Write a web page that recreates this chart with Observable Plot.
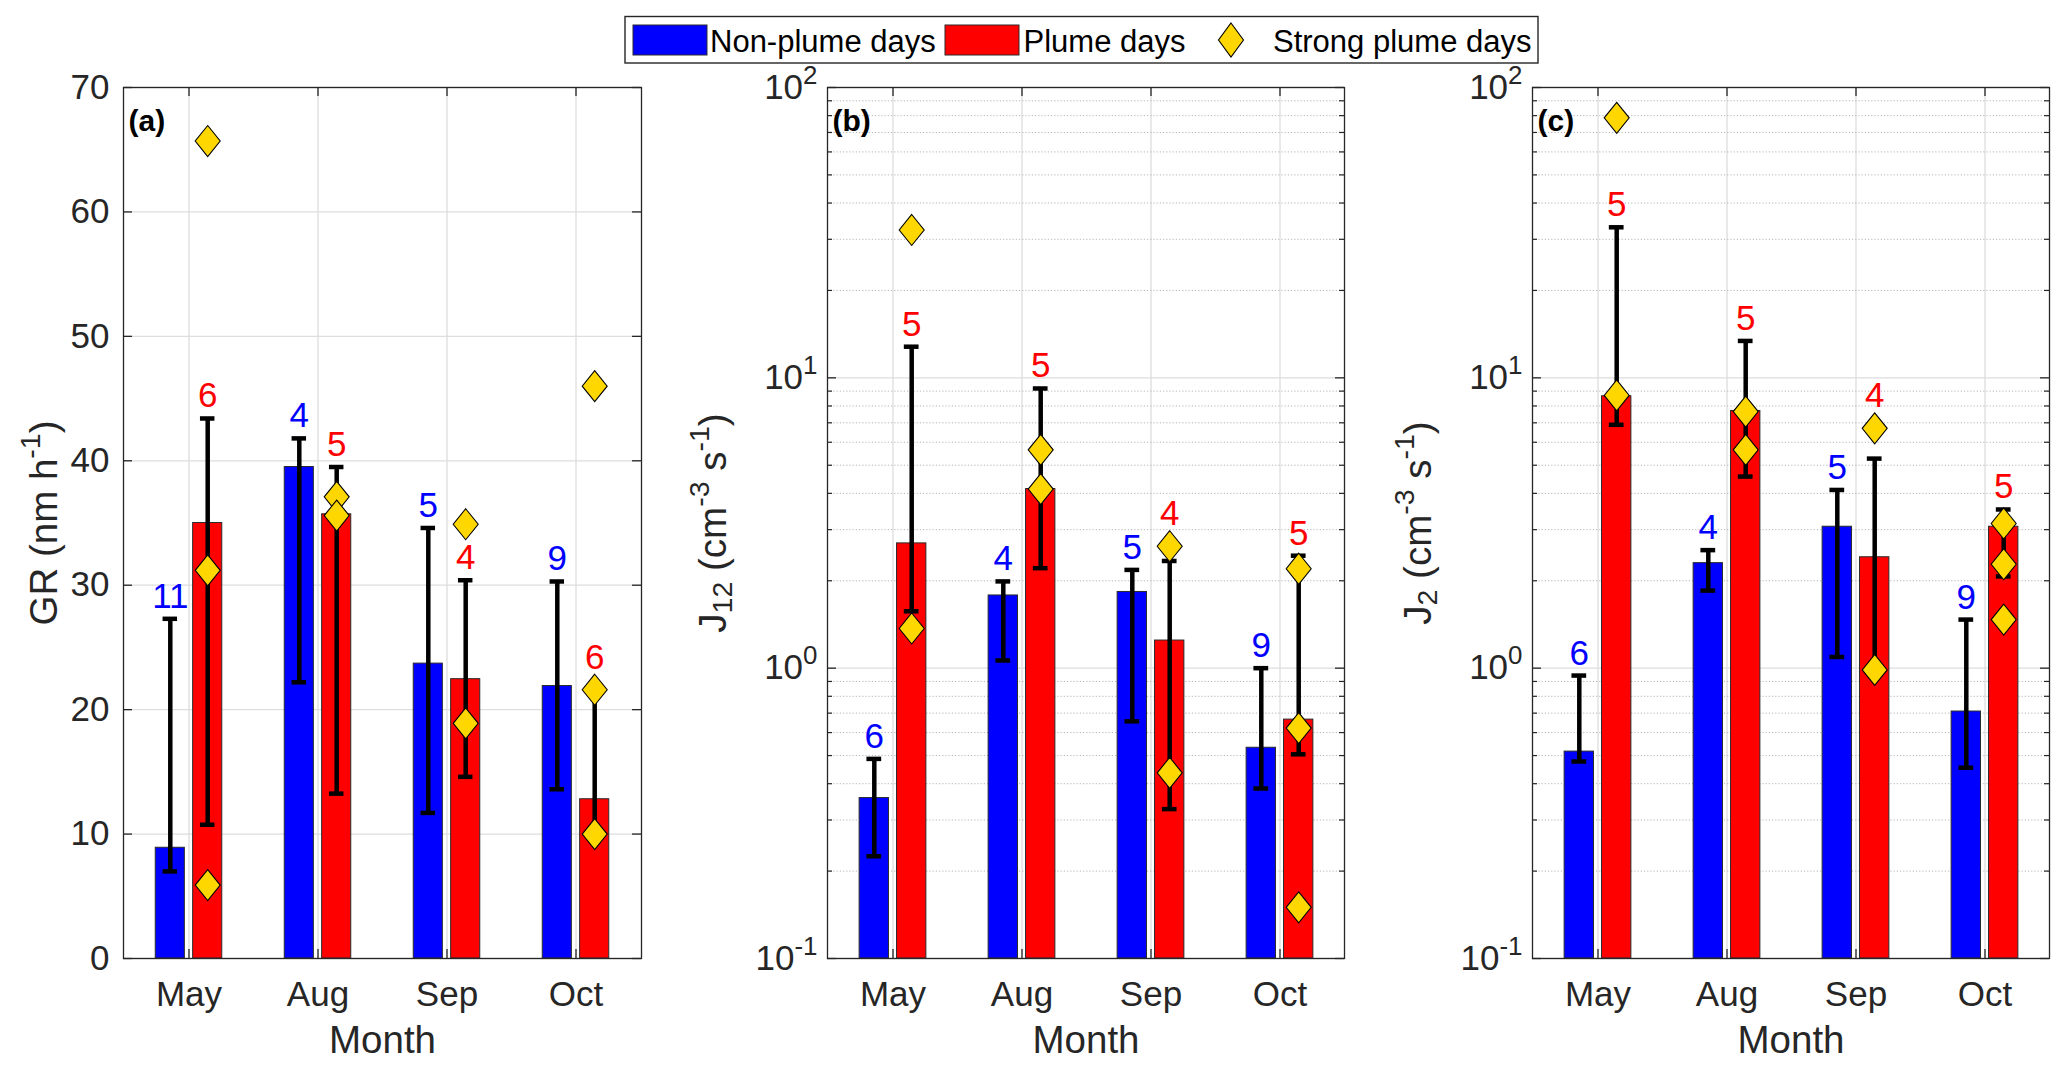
<!DOCTYPE html>
<html><head><meta charset="utf-8">
<script src="https://cdn.jsdelivr.net/npm/d3@7"></script>
<script src="https://cdn.jsdelivr.net/npm/@observablehq/plot@0.6"></script>
<style>
html,body{margin:0;padding:0;background:#fff;}
#wrap{position:relative;width:2067px;height:1072px;overflow:hidden;font-family:"Liberation Sans",Arial,sans-serif;}
#wrap svg{position:absolute;overflow:visible;}
</style></head><body><div id="wrap"></div>
<script>
// ---------- data ----------
const months = ["May", "Aug", "Sep", "Oct"];

// (a) GR (nm h-1)
const grNonMean = [8.9, 39.5, 23.7, 21.9];
const grNonLo   = [7.0, 22.2, 11.7, 13.6];
const grNonHi   = [27.3, 41.8, 34.6, 30.3];
const grNonN    = [11, 4, 5, 9];
const grPlMean  = [35.0, 35.7, 22.45, 12.8];
const grPlLo    = [10.75, 13.25, 14.6, 10.3];
const grPlHi    = [43.4, 39.5, 30.4, 21.9];
const grPlN     = [6, 5, 4, 6];
const grStrong  = [[65.7, 31.2, 5.9], [37.1, 35.6], [34.9, 18.9], [46.0, 21.6, 10.0]];
const grTicks   = [0, 10, 20, 30, 40, 50, 60, 70];

// (b) J12 (cm-3 s-1)
const j12NonMean = [0.357, 1.78, 1.83, 0.532];
const j12NonLo   = [0.225, 1.063, 0.656, 0.385];
const j12NonHi   = [0.487, 1.99, 2.18, 1.0];
const j12NonN    = [6, 4, 5, 9];
const j12PlMean  = [2.69, 4.14, 1.245, 0.665];
const j12PlLo    = [1.57, 2.21, 0.327, 0.505];
const j12PlHi    = [12.8, 9.19, 2.34, 2.44];
const j12PlN     = [5, 5, 4, 5];
const j12Strong  = [[32.3, 1.37], [5.65, 4.14], [2.63, 0.436], [2.20, 0.622, 0.150]];

// (c) J2 (cm-3 s-1)
const j2NonMean = [0.516, 2.30, 3.07, 0.709];
const j2NonLo   = [0.477, 1.85, 1.093, 0.454];
const j2NonHi   = [0.943, 2.55, 4.11, 1.47];
const j2NonN    = [6, 4, 5, 9];
const j2PlMean  = [8.64, 7.69, 2.41, 3.07];
const j2PlLo    = [6.89, 4.57, 0.97, 2.07];
const j2PlHi    = [33.0, 13.4, 5.27, 3.52];
const j2PlN     = [5, 5, 4, 5];
const j2Strong  = [[78.6, 8.7], [7.65, 5.65], [6.70, 0.986], [3.15, 2.28, 1.47]];

const logTicks = [0.1, 1, 10, 100];
const logMinor = [0.2,0.3,0.4,0.5,0.6,0.7,0.8,0.9, 2,3,4,5,6,7,8,9, 20,30,40,50,60,70,80,90];

// ---------- helpers ----------
const NS = "http://www.w3.org/2000/svg";
const FONT = "'Liberation Sans', Arial, Helvetica, sans-serif";
const tallDiamond = {
  draw(ctx, size) {
    const r = Math.sqrt(size / Math.PI), h = r * 1.24;
    ctx.moveTo(0, -h); ctx.lineTo(r, 0); ctx.lineTo(0, h); ctx.lineTo(-r, 0); ctx.closePath();
  }
};

function richify(root) {
  root.querySelectorAll("text").forEach(t => {
    const s = t.textContent;
    if (!/[\^_]\{/.test(s)) return;
    const fs = parseFloat(getComputedStyle(t).fontSize);
    const isTick = s.startsWith("10^{");
    const parts = s.split(/([\^_]\{[^}]*\})/).filter(p => p.length);
    t.textContent = "";
    let shift = 0;
    for (const p of parts) {
      const ts = document.createElementNS(NS, "tspan");
      let target = 0, txt = p, small = false;
      if (p.startsWith("^{")) { target = -0.43 * fs; txt = p.slice(2, -1); small = true; }
      else if (p.startsWith("_{")) { target = 0.16 * fs; txt = p.slice(2, -1); small = true; }
      ts.setAttribute("dy", (target - shift).toFixed(2));
      shift = target;
      if (small) ts.setAttribute("font-size", (0.74 * fs).toFixed(1));
      ts.textContent = txt;
      t.appendChild(ts);
    }
    if (isTick) t.setAttribute("dy", (0.32 * fs + 6).toFixed(1));
  });
}

function panel(cfg) {
  const {left, fw, marginLeft, yOpts, yTicks, yMinor, tickPad, tickFormat, title, titleDx, tag,
         nonMean, nonLo, nonHi, nonN, plMean, plLo, plHi, plN, strong} = cfg;
  const marginTop = 25, marginBottom = 105, marginRight = 12, fh = 871;
  const width = marginLeft + fw + marginRight, height = marginTop + fh + marginBottom;
  const y = {...yOpts, range: [marginTop + fh, marginTop]};
  const ys = Plot.scale({y});
  const base = yOpts.domain[0];
  const bw = fw / months.length;
  const halfGap = 3.9, barW = 29.6, off = halfGap + barW / 2, capW = 15;

  function labelY(hi, ds) {
    const cap = ys.apply(hi);
    let b = cap - 11;
    for (const d of ds) { const p = ys.apply(d); if (p > cap - 40) b = Math.min(b, p - 21); }
    return ys.invert(b);
  }

  const rows = months.map((m, i) => ({
    m, nonMean: nonMean[i], nonLo: nonLo[i], nonHi: nonHi[i], nonN: String(nonN[i]),
    plMean: plMean[i], plLo: plLo[i], plHi: plHi[i], plN: String(plN[i]),
    nonLy: labelY(nonHi[i], []), plLy: labelY(plHi[i], strong[i])
  }));
  const strongRows = months.flatMap((m, i) => strong[i].map(v => ({m, v})));

  const gridC = "#dedede", axC = "#262626";
  const blueIn = {insetLeft: bw / 2 - off - barW / 2, insetRight: bw / 2 + halfGap};
  const redIn = {insetLeft: bw / 2 + halfGap, insetRight: bw / 2 - off - barW / 2};
  const blueCap = {insetLeft: bw / 2 - off - capW / 2, insetRight: bw / 2 + off - capW / 2};
  const redCap = {insetLeft: bw / 2 + off - capW / 2, insetRight: bw / 2 - off - capW / 2};
  const eb = {stroke: "#000", strokeWidth: 4.5};

  const marks = [
    Plot.ruleX(months, {x: d => d, stroke: gridC, strokeWidth: 1.3}),
    yMinor ? Plot.ruleY(yMinor, {y: d => d, stroke: "#b5b5b5", strokeWidth: 1, strokeDasharray: "1.2,2"}) : null,
    Plot.ruleY(yTicks, {y: d => d, stroke: gridC, strokeWidth: 1.3}),
    Plot.tickY(yTicks, {y: d => d, insetRight: fw - 9, stroke: axC, strokeWidth: 1.3}),
    Plot.tickY(yTicks, {y: d => d, insetLeft: fw - 9, stroke: axC, strokeWidth: 1.3}),
    yMinor ? Plot.tickY(yMinor, {y: d => d, insetRight: fw - 5, stroke: axC, strokeWidth: 1.2}) : null,
    yMinor ? Plot.tickY(yMinor, {y: d => d, insetLeft: fw - 5, stroke: axC, strokeWidth: 1.2}) : null,
    Plot.tickX(months, {x: d => d, insetBottom: fh - 9, stroke: axC, strokeWidth: 1.3}),
    Plot.tickX(months, {x: d => d, insetTop: fh - 9, stroke: axC, strokeWidth: 1.3}),
    Plot.barY(rows, {x: "m", y1: base, y2: "nonMean", fill: "#0000ff", stroke: "#2b2b2b", strokeWidth: 1, ...blueIn}),
    Plot.barY(rows, {x: "m", y1: base, y2: "plMean", fill: "#ff0000", stroke: "#2b2b2b", strokeWidth: 1, ...redIn}),
    Plot.ruleX(rows, {x: "m", y1: "nonLo", y2: "nonHi", dx: -off, ...eb}),
    Plot.ruleX(rows, {x: "m", y1: "plLo", y2: "plHi", dx: off, ...eb}),
    Plot.tickY(rows, {x: "m", y: "nonLo", ...blueCap, ...eb}),
    Plot.tickY(rows, {x: "m", y: "nonHi", ...blueCap, ...eb}),
    Plot.tickY(rows, {x: "m", y: "plLo", ...redCap, ...eb}),
    Plot.tickY(rows, {x: "m", y: "plHi", ...redCap, ...eb}),
    Plot.dot(strongRows, {x: "m", y: "v", dx: off, r: 12.5, symbol: tallDiamond, fill: "#ffd700", stroke: "#000", strokeWidth: 1.1}),
    Plot.text(rows, {x: "m", y: "nonLy", text: "nonN", dx: -off, fill: "#0000ff", fontSize: 35, lineAnchor: "bottom", textAnchor: "middle"}),
    Plot.text(rows, {x: "m", y: "plLy", text: "plN", dx: off, fill: "#ff0000", fontSize: 35, lineAnchor: "bottom", textAnchor: "middle"}),
    Plot.frame({stroke: axC, strokeWidth: 1.3}),
    Plot.axisX({tickSize: 0, tickPadding: 23, label: null}),
    Plot.axisY({ticks: yTicks, tickSize: 0, tickPadding: tickPad, label: null, tickFormat}),
    Plot.text([tag], {text: d => d, frameAnchor: "top-left", dx: 5, dy: 22, fontWeight: "bold", fontSize: 30, lineAnchor: "top", textAnchor: "start", fill: "#000"}),
    Plot.text(["Month"], {text: d => d, frameAnchor: "bottom", dy: 67, lineAnchor: "top", textAnchor: "middle", fontSize: 38.5, fill: axC}),
    Plot.text([title], {text: d => d, frameAnchor: "left", dx: titleDx, rotate: -90, fontSize: 38.5, lineAnchor: "middle", textAnchor: "middle", fill: axC})
  ].filter(Boolean);

  const svg = Plot.plot({
    width, height, marginLeft, marginRight, marginTop, marginBottom,
    x: {type: "band", domain: months, padding: 0},
    y,
    style: {fontFamily: FONT, fontSize: "35px", color: axC, background: "transparent", overflow: "visible"},
    marks
  });
  svg.style.left = left + "px";
  svg.style.top = "62px";
  document.getElementById("wrap").appendChild(svg);
  richify(svg);
}

panel({
  left: 0, fw: 518, marginLeft: 123, yOpts: {type: "linear", domain: [0, 70]},
  yTicks: grTicks, yMinor: null, tickPad: 14, tickFormat: d => String(d),
  title: "GR (nm h^{-1})", titleDx: -79, tag: "(a)",
  nonMean: grNonMean, nonLo: grNonLo, nonHi: grNonHi, nonN: grNonN,
  plMean: grPlMean, plLo: grPlLo, plHi: grPlHi, plN: grPlN, strong: grStrong
});
const logFmt = d => `10^{${Math.round(Math.log10(d))}}`;
panel({
  left: 680, fw: 517, marginLeft: 147, yOpts: {type: "log", domain: [0.1, 100]},
  yTicks: logTicks, yMinor: logMinor, tickPad: 10, tickFormat: logFmt,
  title: "J_{12} (cm^{-3} s^{-1})", titleDx: -114, tag: "(b)",
  nonMean: j12NonMean, nonLo: j12NonLo, nonHi: j12NonHi, nonN: j12NonN,
  plMean: j12PlMean, plLo: j12PlLo, plHi: j12PlHi, plN: j12PlN, strong: j12Strong
});
panel({
  left: 1380, fw: 517, marginLeft: 152, yOpts: {type: "log", domain: [0.1, 100]},
  yTicks: logTicks, yMinor: logMinor, tickPad: 10, tickFormat: logFmt,
  title: "J_{2} (cm^{-3} s^{-1})", titleDx: -114, tag: "(c)",
  nonMean: j2NonMean, nonLo: j2NonLo, nonHi: j2NonHi, nonN: j2NonN,
  plMean: j2PlMean, plLo: j2PlLo, plHi: j2PlHi, plN: j2PlN, strong: j2Strong
});

// ---------- legend ----------
(function legend() {
  const svg = document.createElementNS(NS, "svg");
  svg.setAttribute("width", 2067); svg.setAttribute("height", 70);
  svg.style.left = "0px"; svg.style.top = "0px";
  svg.setAttribute("font-family", FONT);
  const add = (tag, attrs, text) => {
    const e = document.createElementNS(NS, tag);
    for (const k in attrs) e.setAttribute(k, attrs[k]);
    if (text) e.textContent = text;
    svg.appendChild(e); return e;
  };
  add("rect", {x: 625, y: 16.5, width: 913, height: 46.5, fill: "#fff", stroke: "#262626", "stroke-width": 1.4});
  add("rect", {x: 633, y: 25, width: 74, height: 30, fill: "#0000ff", stroke: "#2b2b2b", "stroke-width": 1});
  add("text", {x: 710, y: 52, "font-size": 31, fill: "#000"}, "Non-plume days");
  add("rect", {x: 945, y: 25, width: 74, height: 30, fill: "#ff0000", stroke: "#2b2b2b", "stroke-width": 1});
  add("text", {x: 1023.5, y: 52, "font-size": 31, fill: "#000"}, "Plume days");
  add("path", {d: "M1231,23 L1243.5,40 L1231,57 L1218.5,40 Z", fill: "#ffd700", stroke: "#000", "stroke-width": 1.1});
  add("text", {x: 1273, y: 52, "font-size": 31, fill: "#000"}, "Strong plume days");
  document.getElementById("wrap").appendChild(svg);
})();
</script></body></html>
